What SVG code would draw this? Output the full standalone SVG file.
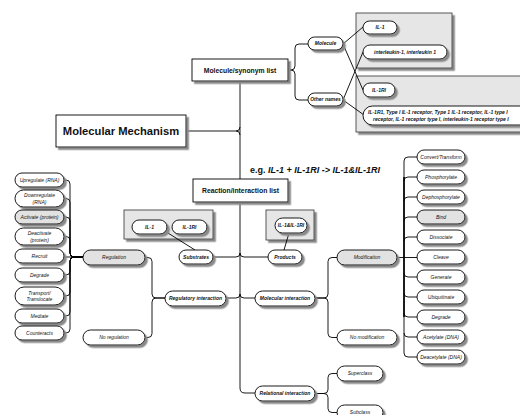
<svg xmlns="http://www.w3.org/2000/svg" width="520" height="415" viewBox="0 0 520 415">
<defs>
<filter id="sh" x="-20%" y="-30%" width="150%" height="180%">
<feDropShadow dx="2.5" dy="2.5" stdDeviation="0.7" flood-color="#8a8a8a" flood-opacity="1"/>
</filter>
<style>
text{font-family:"Liberation Sans",Arial,sans-serif;fill:#111}
.p{fill:#fff;stroke:#000;stroke-width:0.9;filter:url(#sh)}
.g{fill:#e2e2e2;stroke:#000;stroke-width:0.9;filter:url(#sh)}
.bx{fill:#fff;stroke:#000;stroke-width:0.9;filter:url(#sh)}
.gb{fill:#e6e6e6;stroke:#333;stroke-width:0.8;filter:url(#sh)}
.t{font-size:5px;font-style:italic;text-anchor:middle}
.tb{font-size:5px;font-style:italic;font-weight:bold;text-anchor:middle}
.h{font-weight:bold;text-anchor:middle}
.c path,.c line{fill:none;stroke:#000;stroke-width:0.9}
</style>
</defs>
<rect width="520" height="415" fill="#fff"/>

<!-- grey containers -->
<g id="box-mol"><rect class="gb" x="356" y="13" width="96" height="55"/></g>
<g id="box-other"><rect class="gb" x="356" y="76" width="172" height="56"/></g>
<g id="box-sub"><rect class="gb" x="124" y="210" width="89" height="29"/></g>
<g id="box-prod"><rect class="gb" x="266" y="210" width="48" height="30"/></g>

<!-- connectors -->
<g class="c" id="connectors">
<path d="M288,70 H291 Q295,70 295,66 V48 Q295,44 299,44 H308"/>
<path d="M288,70 H291 Q295,70 295,74 V96 Q295,100 299,100 H308"/>
<line x1="343" y1="44" x2="363" y2="27"/>
<line x1="343" y1="44" x2="363" y2="90"/>
<line x1="343" y1="100" x2="363" y2="52"/>
<line x1="343" y1="100" x2="364" y2="115"/>
<path d="M186,131 H236 Q240,131 240,127"/>
<path d="M236,131 Q240,131 240,135"/>
<path d="M240,81 V179"/>
<path d="M240,202 V388 Q240,393 245,393 H255"/>
<path d="M213,257 H236 Q240,257 240,253"/>
<path d="M268,257 H244 Q240,257 240,253"/>
<path d="M226,298 H236 Q240,298 240,294"/>
<path d="M255,298 H244 Q240,298 240,294"/>
<line x1="168" y1="233" x2="195" y2="250"/>
<line x1="289" y1="233" x2="284" y2="250"/>
<!-- regulation brace -->
<path d="M83,257 H74 Q70,257 70,253 V184 Q70,180 66,180 H64"/>
<path d="M83,257 H74 Q70,257 70,253 V202.5 Q70,198.5 66,198.5 H64"/>
<path d="M83,257 H74 Q70,257 70,253 V221 Q70,217 66,217 H64"/>
<path d="M83,257 H74 Q70,257 70,253 V240.5 Q70,236.5 66,236.5 H64"/>
<path d="M83,257 H64"/>
<path d="M83,257 H74 Q70,257 70,261 V271 Q70,275 66,275 H64"/>
<path d="M83,257 H74 Q70,257 70,261 V292 Q70,296 66,296 H64"/>
<path d="M83,257 H74 Q70,257 70,261 V312 Q70,316 66,316 H64"/>
<path d="M83,257 H74 Q70,257 70,261 V329 Q70,333 66,333 H64"/>
<!-- regulatory interaction brace -->
<path d="M145,257.5 H148 Q152,257.5 152,261.5 V294 Q152,298 156,298 H165"/>
<path d="M145,337.5 H148 Q152,337.5 152,333.5 V302 Q152,298 156,298 H165"/>
<!-- molecular interaction brace -->
<path d="M315,298 H324 Q328,298 328,294 V261.5 Q328,257.5 332,257.5 H337"/>
<path d="M315,298 H324 Q328,298 328,302 V333.5 Q328,337.5 332,337.5 H337"/>
<!-- relational brace -->
<path d="M315,393.5 H324 Q328,393.5 328,389.5 V377.5 Q328,373.5 332,373.5 H337"/>
<path d="M315,393.5 H324 Q328,393.5 328,397.5 V408.5 Q328,412.5 332,412.5 H337"/>
<!-- modification brace -->
<path d="M397,257.5 H404 V161 Q404,157 408,157 H417"/>
<path d="M404,181 Q404,177 408,177 H417"/>
<path d="M404,201 Q404,197 408,197 H417"/>
<path d="M404,221 Q404,217 408,217 H417"/>
<path d="M404,241 Q404,237 408,237 H417"/>
<path d="M404,257.5 H417"/>
<path d="M404,257.5 V353 Q404,357 408,357 H417"/>
<path d="M404,273 Q404,277 408,277 H417"/>
<path d="M404,293 Q404,297 408,297 H417"/>
<path d="M404,313 Q404,317 408,317 H417"/>
<path d="M404,333 Q404,337 408,337 H417"/>
<path d="M404,177 V317" style="stroke-width:1.6"/>
</g>

<!-- main boxes -->
<g id="molecular-mechanism"><rect class="bx" x="56" y="115" width="130" height="32"/><text class="h" x="121" y="135" font-size="11.2">Molecular Mechanism</text></g>
<g id="synonym-list"><rect class="bx" x="192" y="59" width="96" height="22"/><text class="h" x="240" y="72.5" font-size="6.8">Molecule/synonym list</text></g>
<g id="reaction-list"><rect class="bx" x="193" y="179" width="95" height="23"/><text class="h" x="240.5" y="192.5" font-size="6.8">Reaction/interaction list</text></g>
<g id="example"><text x="250" y="173" font-size="9" font-weight="bold" style="text-anchor:start">e.g. <tspan font-style="italic">IL-1 + IL-1RI -&gt; IL-1&amp;IL-1RI</tspan></text></g>

<!-- synonym nodes -->
<g id="molecule"><rect class="p" x="308" y="37" width="35" height="13" rx="6.5"/><text class="tb" x="325.5" y="45.3">Molecule</text></g>
<g id="other-names"><rect class="p" x="308" y="93" width="35" height="13" rx="6.5"/><text class="tb" x="325.5" y="101.3" font-size="4.8">Other names</text></g>
<g id="il1-top"><rect class="p" x="363" y="21" width="34" height="13" rx="6.5"/><text class="tb" x="380" y="29.3">IL-1</text></g>
<g id="interleukin"><rect class="p" x="363" y="45" width="84" height="14" rx="7"/><text class="tb" x="405" y="53.8">interleukin-1, interleukin 1</text></g>
<g id="il1ri-top"><rect class="p" x="363" y="83" width="32" height="14" rx="7"/><text class="tb" x="379" y="91.8">IL-1RI</text></g>
<g id="il1ri-names"><rect class="p" x="363" y="106" width="170" height="19" rx="9.5"/><text class="tb" x="368" y="114" font-size="4.9" style="text-anchor:start">IL-1R1, Type I IL-1 receptor, Type 1 IL-1 receptor, IL-1 type I</text><text class="tb" x="373" y="120.8" font-size="4.9" style="text-anchor:start">receptor, IL-1 receptor type I, interleukin-1 receptor type I</text></g>

<!-- substrates / products -->
<g id="sub-il1"><rect class="p" x="132" y="220" width="35" height="14" rx="7"/><text class="tb" x="149.5" y="228.8">IL-1</text></g>
<g id="sub-il1ri"><rect class="p" x="172" y="220" width="35" height="14" rx="7"/><text class="tb" x="189.5" y="228.8">IL-1RI</text></g>
<g id="prod-complex"><rect class="p" x="275" y="218" width="32" height="15" rx="7.5"/><text class="tb" x="291" y="227.3" font-size="4.6">IL-1&amp;IL-1RI</text></g>
<g id="substrates"><rect class="p" x="179" y="250" width="34" height="14" rx="7"/><text class="tb" x="196" y="258.8">Substrates</text></g>
<g id="products"><rect class="p" x="268" y="250" width="34" height="14" rx="7"/><text class="tb" x="285" y="258.8">Products</text></g>

<!-- interaction nodes -->
<g id="regulation"><rect class="g" x="83" y="250" width="62" height="15" rx="7.5"/><text class="t" x="114" y="259.3">Regulation</text></g>
<g id="no-regulation"><rect class="p" x="83" y="330" width="62" height="15" rx="7.5"/><text class="t" x="114" y="339.3">No regulation</text></g>
<g id="regulatory-interaction"><rect class="p" x="165" y="291" width="61" height="15" rx="7.5"/><text class="tb" x="195.5" y="300.3">Regulatory interaction</text></g>
<g id="molecular-interaction"><rect class="p" x="255" y="291" width="60" height="15" rx="7.5"/><text class="tb" x="285" y="300.3">Molecular interaction</text></g>
<g id="relational-interaction"><rect class="p" x="255" y="386" width="60" height="15" rx="7.5"/><text class="tb" x="285" y="395.3">Relational interaction</text></g>
<g id="modification"><rect class="g" x="337" y="250" width="60" height="15" rx="7.5"/><text class="t" x="367" y="259.3">Modification</text></g>
<g id="no-modification"><rect class="p" x="337" y="330" width="60" height="15" rx="7.5"/><text class="t" x="367" y="339.3">No modification</text></g>
<g id="superclass"><rect class="p" x="337" y="366" width="46" height="15" rx="7.5"/><text class="t" x="360" y="375.3">Superclass</text></g>
<g id="subclass"><rect class="p" x="337" y="405" width="46" height="15" rx="7.5"/><text class="t" x="360" y="414.3">Subclass</text></g>

<!-- regulation types -->
<g id="upregulate"><rect class="p" x="15" y="173" width="49" height="14" rx="7"/><text class="t" x="39.5" y="181.8">Upregulate (RNA)</text></g>
<g id="downregulate"><rect class="p" x="15" y="190" width="49" height="17" rx="8.5"/><text class="t" x="39.5" y="197">Downregulate</text><text class="t" x="39.5" y="203.5">(RNA)</text></g>
<g id="activate"><rect class="g" x="15" y="210" width="49" height="14" rx="7"/><text class="t" x="39.5" y="218.8">Activate (protein)</text></g>
<g id="deactivate"><rect class="p" x="15" y="228" width="49" height="17" rx="8.5"/><text class="t" x="39.5" y="235">Deactivate</text><text class="t" x="39.5" y="241.5">(protein)</text></g>
<g id="recruit"><rect class="p" x="15" y="249" width="49" height="14" rx="7"/><text class="t" x="39.5" y="257.8">Recruit</text></g>
<g id="degrade-l"><rect class="p" x="15" y="268" width="49" height="14" rx="7"/><text class="t" x="39.5" y="276.8">Degrade</text></g>
<g id="transport"><rect class="p" x="15" y="287" width="49" height="18" rx="9"/><text class="t" x="39.5" y="294.5">Transport/</text><text class="t" x="39.5" y="301">Translocate</text></g>
<g id="mediate"><rect class="p" x="15" y="309" width="49" height="14" rx="7"/><text class="t" x="39.5" y="317.8">Mediate</text></g>
<g id="counteracts"><rect class="p" x="15" y="326" width="49" height="14" rx="7"/><text class="t" x="39.5" y="334.8">Counteracts</text></g>

<!-- modification types -->
<g id="convert"><rect class="p" x="417" y="150" width="48" height="14" rx="7"/><text class="t" x="441" y="158.8">Convert/Transform</text></g>
<g id="phosphorylate"><rect class="p" x="417" y="170" width="48" height="14" rx="7"/><text class="t" x="441" y="178.8">Phosphorylate</text></g>
<g id="dephosphorylate"><rect class="p" x="417" y="190" width="48" height="14" rx="7"/><text class="t" x="441" y="198.8">Dephosphorylate</text></g>
<g id="bind"><rect class="g" x="417" y="210" width="48" height="14" rx="7"/><text class="t" x="441" y="218.8">Bind</text></g>
<g id="dissociate"><rect class="p" x="417" y="230" width="48" height="14" rx="7"/><text class="t" x="441" y="238.8">Dissociate</text></g>
<g id="cleave"><rect class="p" x="417" y="250" width="48" height="14" rx="7"/><text class="t" x="441" y="258.8">Cleave</text></g>
<g id="generate"><rect class="p" x="417" y="270" width="48" height="14" rx="7"/><text class="t" x="441" y="278.8">Generate</text></g>
<g id="ubiquitinate"><rect class="p" x="417" y="290" width="48" height="14" rx="7"/><text class="t" x="441" y="298.8">Ubiquitinate</text></g>
<g id="degrade-r"><rect class="p" x="417" y="310" width="48" height="14" rx="7"/><text class="t" x="441" y="318.8">Degrade</text></g>
<g id="acetylate"><rect class="p" x="417" y="330" width="48" height="14" rx="7"/><text class="t" x="441" y="338.8">Acetylate (DNA)</text></g>
<g id="deacetylate"><rect class="p" x="417" y="350" width="48" height="14" rx="7"/><text class="t" x="441" y="358.8">Deacetylate (DNA)</text></g>
</svg>
